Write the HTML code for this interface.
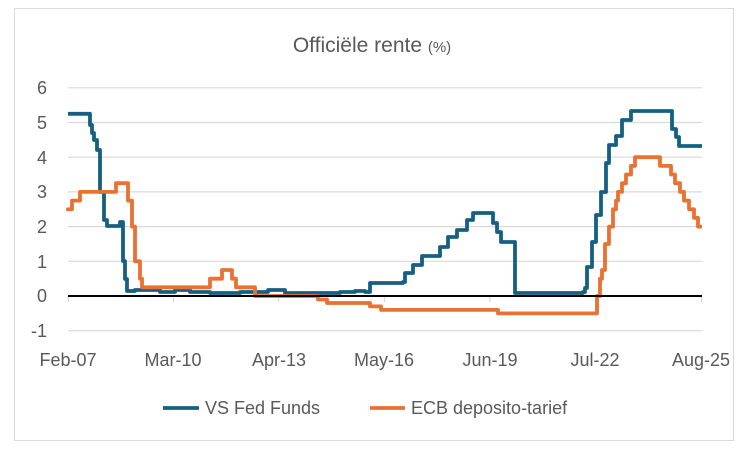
<!DOCTYPE html>
<html><head><meta charset="utf-8"><style>
html,body{margin:0;padding:0;background:#fff;}
svg{display:block;font-family:"Liberation Sans",sans-serif;}
</style></head><body>
<svg width="747" height="451" viewBox="0 0 747 451" xmlns="http://www.w3.org/2000/svg">
<rect x="14.5" y="8.5" width="719" height="432" fill="#fff" stroke="#d9d9d9" stroke-width="1"/>
<text x="372" y="52" text-anchor="middle" font-size="21" fill="#595959">Officiële rente <tspan font-size="15">(%)</tspan></text>
<g stroke="#d9d9d9" stroke-width="1.2">
<line x1="68" y1="87.8" x2="702" y2="87.8"/>
<line x1="68" y1="122.5" x2="702" y2="122.5"/>
<line x1="68" y1="157.2" x2="702" y2="157.2"/>
<line x1="68" y1="191.9" x2="702" y2="191.9"/>
<line x1="68" y1="226.6" x2="702" y2="226.6"/>
<line x1="68" y1="261.3" x2="702" y2="261.3"/>
<line x1="68" y1="330.7" x2="702" y2="330.7"/>
<line x1="68.5" y1="296" x2="68.5" y2="302"/>
<line x1="173.5" y1="296" x2="173.5" y2="302"/>
<line x1="278.5" y1="296" x2="278.5" y2="302"/>
<line x1="384.5" y1="296" x2="384.5" y2="302"/>
<line x1="490" y1="296" x2="490" y2="302"/>
<line x1="596" y1="296" x2="596" y2="302"/>
<line x1="701.5" y1="296" x2="701.5" y2="302"/>
</g>
<g font-size="18" fill="#595959" text-anchor="end">
<text x="47" y="94">6</text><text x="47" y="129">5</text><text x="47" y="164">4</text>
<text x="47" y="198">3</text><text x="47" y="233">2</text><text x="47" y="268">1</text>
<text x="47" y="302">0</text><text x="47" y="337">-1</text>
</g>
<g font-size="18" fill="#595959" text-anchor="middle">
<text x="68" y="366">Feb-07</text><text x="173" y="366">Mar-10</text><text x="279" y="366">Apr-13</text>
<text x="384" y="366">May-16</text><text x="490" y="366">Jun-19</text><text x="595" y="366">Jul-22</text><text x="701" y="366">Aug-25</text>
</g>
<path fill="none" stroke="#156082" stroke-width="3.8" stroke-linejoin="round" d="M68,113.8 H90 V125 H92 V133 H94 V140 H97 V150 H100 V192 H104 V220 H107 V226 H120 V222 H123 V261 H125 V279 H127 V291 H135 V290 H160 V292 H175 V290 H190 V292 H210 V293 H240 V292 H268 V290 H285 V293 H340 V292 H355 V291 H365 V292 H370 V283 H403 V282 H405 V273 H413 V265 H422 V256 H440 V247 H448 V237 H457 V230 H467 V220 H473 V213 H493 V223 H497 V232 H501 V242 H515 V293 H583 V292 H585 V288 H587 V267 H592 V242 H596 V215 H601 V192 H606 V163 H609 V145 H616 V136 H622 V120 H631 V111 H672 V129 H676 V137 H679 V146 H702"/>
<path fill="none" stroke="#e97132" stroke-width="3.8" stroke-linejoin="round" d="M68,211 V209.3 H72 V200.6 H80 V191.9 H116 V183.2 H128 V200.6 H132 V226.6 H135 V261.3 H140 V278.7 H142 V287.3 H210 V278.7 H222 V270 H232 V278.7 H236 V287.3 H255 V296 H318 V299.5 H327 V303 H370 V306.4 H381 V309.9 H498 V313.4 H597 V296 H600 V278.7 H602 V270 H605 V244 H609 V226.6 H613 V209.3 H616 V200.6 H618 V191.9 H622 V183.2 H626 V174.5 H631 V165.9 H635 V157.2 H660 V165.9 H671 V174.5 H675 V183.2 H680 V191.9 H684 V200.6 H689 V209.3 H694 V217.9 H698 V226.6 H702"/>
<line x1="68" y1="296" x2="702" y2="296" stroke="#000" stroke-width="2"/>
<line x1="163" y1="408" x2="199" y2="408" stroke="#156082" stroke-width="3.8"/>
<text x="205" y="414" font-size="18" fill="#595959">VS Fed Funds</text>
<line x1="370" y1="408" x2="405" y2="408" stroke="#e97132" stroke-width="3.8"/>
<text x="411" y="414" font-size="18" fill="#595959">ECB deposito-tarief</text>
</svg>
</body></html>
